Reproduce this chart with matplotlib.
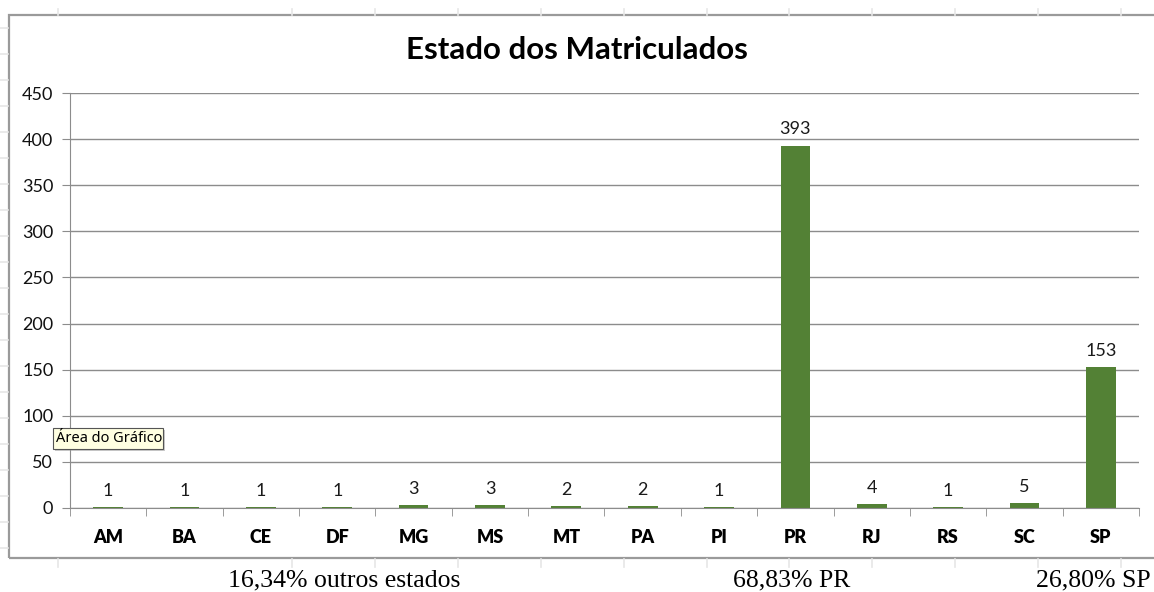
"""Estado dos Matriculados - Excel-style bar chart screenshot."""

import matplotlib

matplotlib.use("Agg")
import matplotlib.pyplot as plt
from matplotlib.lines import Line2D
from matplotlib.patches import Rectangle

STATES = ["AM", "BA", "CE", "DF", "MG", "MS", "MT", "PA", "PI", "PR", "RJ", "RS", "SC", "SP"]
COUNTS = [1, 1, 1, 1, 3, 3, 2, 2, 1, 393, 4, 1, 5, 153]
Y_TICKS = [0, 50, 100, 150, 200, 250, 300, 350, 400, 450]
NOTES = [("16,34% outros estados", 344), ("68,83% PR", 792), ("26,80% SP", 1093)]

W, H = 1154, 592
GREEN = "#538135"
GRID = "#8c8c8c"
FONT = ["Lato", "DejaVu Sans"]

fig = plt.figure(figsize=(W / 100, H / 100), dpi=100)

# faint spreadsheet cell grid showing around the chart object
cols = [58, 292, 375, 458, 541, 624, 707, 789, 872, 955, 1038, 1121]
for x in cols:
    fig.add_artist(Line2D([x / W] * 2, [1 - 9 / H, 1 - 15 / H], color="#e6e6e6", lw=1.2))
    fig.add_artist(Line2D([x / W] * 2, [1 - 559 / H, 1 - 567 / H], color="#e6e6e6", lw=1.2))
for y in range(28, 558, 26):
    fig.add_artist(Line2D([0, 8 / W], [1 - y / H] * 2, color="#e6e6e6", lw=1.2))

# chart area border
fig.add_artist(Rectangle((9 / W, 1 - 558 / H), 1.2, (558 - 15) / H,
                         transform=fig.transFigure, fill=False, ec="#9a9a9a", lw=1.6))

ax = fig.add_axes([70 / W, 1 - 508 / H, (1139 - 70) / W, (508 - 93) / H])
x = range(len(STATES))
ax.bar(x, COUNTS, width=0.39, color=GREEN, zorder=2)
for i, v in zip(x, COUNTS):
    ax.annotate(str(v), (i, v), xytext=(0, 6), textcoords="offset points",
                ha="center", va="bottom", fontsize=13, family=FONT, color="#1a1a1a")

ax.set_xlim(-0.5, len(STATES) - 0.5)
ax.set_ylim(0, 450)
ax.set_yticks(Y_TICKS)
ax.set_yticklabels([str(t) for t in Y_TICKS], fontsize=13, family=FONT, color="#111111")
ax.set_xticks(list(x))
ax.set_xticklabels(STATES, fontsize=13, family=FONT, fontweight="heavy")
ax.set_xticks([i - 0.5 for i in range(len(STATES) + 1)], minor=True)
ax.tick_params(axis="x", which="major", length=0, pad=15)
ax.tick_params(axis="x", which="minor", length=6, color=GRID, direction="out")
ax.tick_params(axis="y", length=6, color=GRID, pad=6)
ax.grid(axis="y", color=GRID, lw=1, zorder=0)
ax.set_axisbelow(True)
for side in ["top", "right"]:
    ax.spines[side].set_visible(False)
for side in ["left", "bottom"]:
    ax.spines[side].set_color(GRID)
    ax.spines[side].set_zorder(3)

fig.text(0.5, 1 - 50 / H, "Estado dos Matriculados", ha="center", va="center",
         fontsize=22.5, fontweight="bold", family=FONT)

# tooltip
fig.add_artist(Rectangle((55 / W, 1 - 451 / H), 110 / W, 21 / H,
                         transform=fig.transFigure, fc="#999999", ec="none", alpha=0.5))
fig.add_artist(Rectangle((53 / W, 1 - 449 / H), 110 / W, 21 / H,
                         transform=fig.transFigure, fc="#ffffe1", ec="#555555", lw=0.8))
fig.text(56 / W, 1 - 439 / H, "Área do Gráfico", ha="left", va="center",
         fontsize=10.5, family=["Noto Sans", "DejaVu Sans"])

for label, cx in NOTES:
    fig.text(cx / W, 1 - 580 / H, label, ha="center", va="center",
             fontsize=18.5, family="Liberation Serif")

fig.savefig("out.png", dpi=100)
